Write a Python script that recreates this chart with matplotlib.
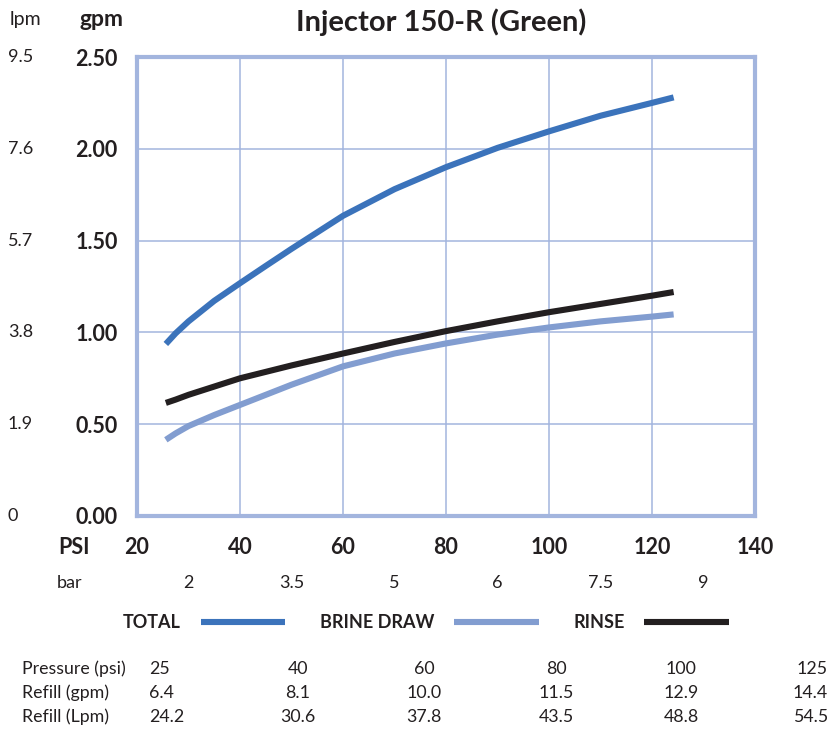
import matplotlib.pyplot as plt
import matplotlib.transforms as mtransforms

plt.rcParams["font.family"] = ["Lato", "DejaVu Sans"]

TEXT = "#231f20"
GRID = "#a3b5de"

# pressure (psi) at which the curves were read
psi = [25.6, 27.5, 30, 35, 40, 45, 50, 60, 70, 80, 90, 100, 110, 120, 124.2]
total = [0.937, 0.995, 1.06, 1.172, 1.268, 1.362, 1.455, 1.635, 1.78, 1.90, 2.005, 2.095, 2.18, 2.25, 2.28]
brine_draw = [0.415, 0.45, 0.49, 0.55, 0.605, 0.66, 0.715, 0.815, 0.885, 0.94, 0.988, 1.027, 1.06, 1.086, 1.098]
rinse = [0.616, 0.634, 0.66, 0.705, 0.75, 0.785, 0.82, 0.885, 0.948, 1.007, 1.06, 1.11, 1.155, 1.20, 1.22]

gpm_ticks = [0.0, 0.5, 1.0, 1.5, 2.0, 2.5]
lpm_labels = ["0", "1.9", "3.8", "5.7", "7.6", "9.5"]
psi_ticks = [20, 40, 60, 80, 100, 120, 140]
bar_pos = [30, 50, 70, 90, 110, 130]
bar_labels = ["2", "3.5", "5", "6", "7.5", "9"]

table_rows = ["Pressure (psi)", "Refill (gpm)", "Refill (Lpm)"]
table_pressure = ["25", "40", "60", "80", "100", "125"]
table_gpm = ["6.4", "8.1", "10.0", "11.5", "12.9", "14.4"]
table_lpm = ["24.2", "30.6", "37.8", "43.5", "48.8", "54.5"]

W, H = 831, 731
fig = plt.figure(figsize=(W / 100, H / 100), dpi=100)
ax = fig.add_axes([137 / W, 1 - 516 / H, (755 - 137) / W, (516 - 57) / H])

lw = 4.4
ax.plot(psi, total, color="#3b73bb", lw=lw, solid_capstyle="butt", label="TOTAL", zorder=3)
ax.plot(psi, brine_draw, color="#829dd0", lw=lw, solid_capstyle="butt", label="BRINE DRAW", zorder=3)
ax.plot(psi, rinse, color="#231f20", lw=lw, solid_capstyle="butt", label="RINSE", zorder=4)

ax.set_xlim(20, 140)
ax.set_ylim(0, 2.5)
ax.set_xticks(psi_ticks)
ax.set_yticks(gpm_ticks)
ax.set_yticklabels([f"{v:.2f}" for v in gpm_ticks])
ax.grid(True, color=GRID, lw=1.1)
ax.set_axisbelow(True)
for s in ax.spines.values():
    s.set_color(GRID)
    s.set_linewidth(3)
ax.tick_params(length=0, labelsize=15.5, labelcolor=TEXT)
ax.tick_params(axis="y", pad=14)
ax.tick_params(axis="x", pad=15)
for t in ax.get_xticklabels() + ax.get_yticklabels():
    t.set_fontweight("bold")

# lpm scale on the far left
tr = mtransforms.blended_transform_factory(fig.transFigure, ax.transData)
for v, lab in zip(gpm_ticks, lpm_labels):
    ax.text(8 / W, v, lab, transform=tr, ha="left", va="center", fontsize=13, color=TEXT)

# bar scale under psi
trx = mtransforms.blended_transform_factory(ax.transData, fig.transFigure)
for p, lab in zip(bar_pos, bar_labels):
    ax.text(p, 1 - 583 / H, lab, transform=trx, ha="center", va="center", fontsize=13, color=TEXT)

fig.text(10 / W, 1 - 20 / H, "lpm", ha="left", va="center", fontsize=14, color=TEXT)
fig.text(80 / W, 1 - 20 / H, "gpm", ha="left", va="center", fontsize=16.5, fontweight="bold", color=TEXT)
fig.text(58 / W, 1 - 548 / H, "PSI", ha="left", va="center", fontsize=15.5, fontweight="bold", color=TEXT)
fig.text(57 / W, 1 - 583 / H, "bar", ha="left", va="center", fontsize=13, color=TEXT)
fig.text(441 / W, 1 - 22 / H, "Injector 150-R (Green)", ha="center", va="center",
         fontsize=21, fontweight="bold", color=TEXT)

leg = ax.legend(loc="center", bbox_to_anchor=(426 / W, 1 - 623 / H), bbox_transform=fig.transFigure,
                ncol=3, frameon=False, markerfirst=False, handlelength=4.7, handletextpad=1.1,
                columnspacing=1.9, borderpad=0, prop={"size": 13, "weight": "bold"})
for t in leg.get_texts():
    t.set_color(TEXT)

# refill table
row_y = [669, 693, 717]
col_x = [149, 298, 424, 556, 681, 828]
col_ha = ["left", "center", "center", "center", "center", "right"]
for y, name, vals in zip(row_y, table_rows, [table_pressure, table_gpm, table_lpm]):
    fig.text(22 / W, 1 - y / H, name, ha="left", va="center", fontsize=12.8, color=TEXT)
    for x, ha, v in zip(col_x, col_ha, vals):
        fig.text(x / W, 1 - y / H, v, ha=ha, va="center", fontsize=12.8, color=TEXT)

fig.savefig("out.png", dpi=100)
